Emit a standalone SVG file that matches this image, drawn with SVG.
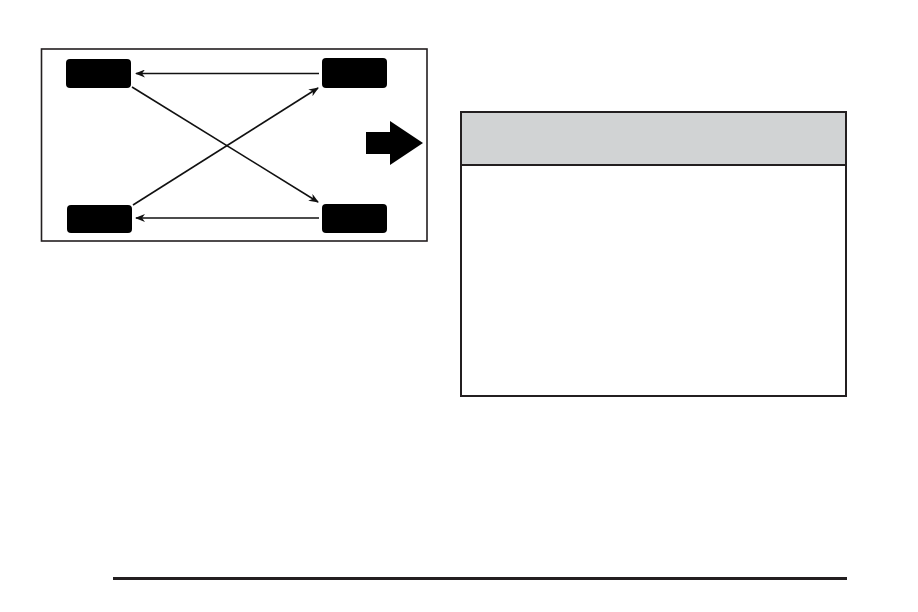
<svg xmlns="http://www.w3.org/2000/svg" width="918" height="612" viewBox="0 0 918 612">
<style>
.tire{fill:#000;}
.conn{stroke:#111;stroke-width:1.6;fill:none;marker-end:url(#ah);}
</style>
<defs>
<marker id="ah" markerWidth="10" markerHeight="8" refX="9" refY="4" orient="auto" markerUnits="userSpaceOnUse">
<path d="M0,0 L10,4 L0,8 L3,4 Z" fill="#111"/>
</marker>
</defs>
<rect width="918" height="612" fill="#fff"/>
<rect x="41.5" y="49" width="385.5" height="192" fill="none" stroke="#231f20" stroke-width="1.6"/>
<g id="tire-fl"><rect class="tire" x="66" y="59" width="65" height="29" rx="4"/></g>
<g id="tire-fr"><rect class="tire" x="322" y="58" width="65" height="30" rx="4"/></g>
<g id="tire-rl"><rect class="tire" x="67" y="205" width="65" height="28" rx="4"/></g>
<g id="tire-rr"><rect class="tire" x="322" y="204" width="65" height="29" rx="4"/></g>
<g id="connectors">
<line class="conn" x1="319" y1="73.5" x2="136" y2="73.5"/>
<line class="conn" x1="319" y1="218" x2="136" y2="218"/>
<line class="conn" x1="132" y1="87" x2="318" y2="202"/>
<line class="conn" x1="133" y1="205" x2="318" y2="88"/>
</g>
<g id="direction-arrow">
<path d="M366,132 L390,132 L390,121 L423,143 L390,165 L390,154 L366,154 Z" fill="#000"/>
</g>
<g id="warning-box">
<rect x="461" y="112" width="385" height="53" fill="#d1d3d4"/>
<rect x="461" y="112" width="385" height="284" fill="none" stroke="#231f20" stroke-width="2"/>
<line x1="461" y1="165" x2="846" y2="165" stroke="#231f20" stroke-width="2"/>
</g>
<line x1="113" y1="578.5" x2="847" y2="578.5" stroke="#231f20" stroke-width="3"/>
</svg>
